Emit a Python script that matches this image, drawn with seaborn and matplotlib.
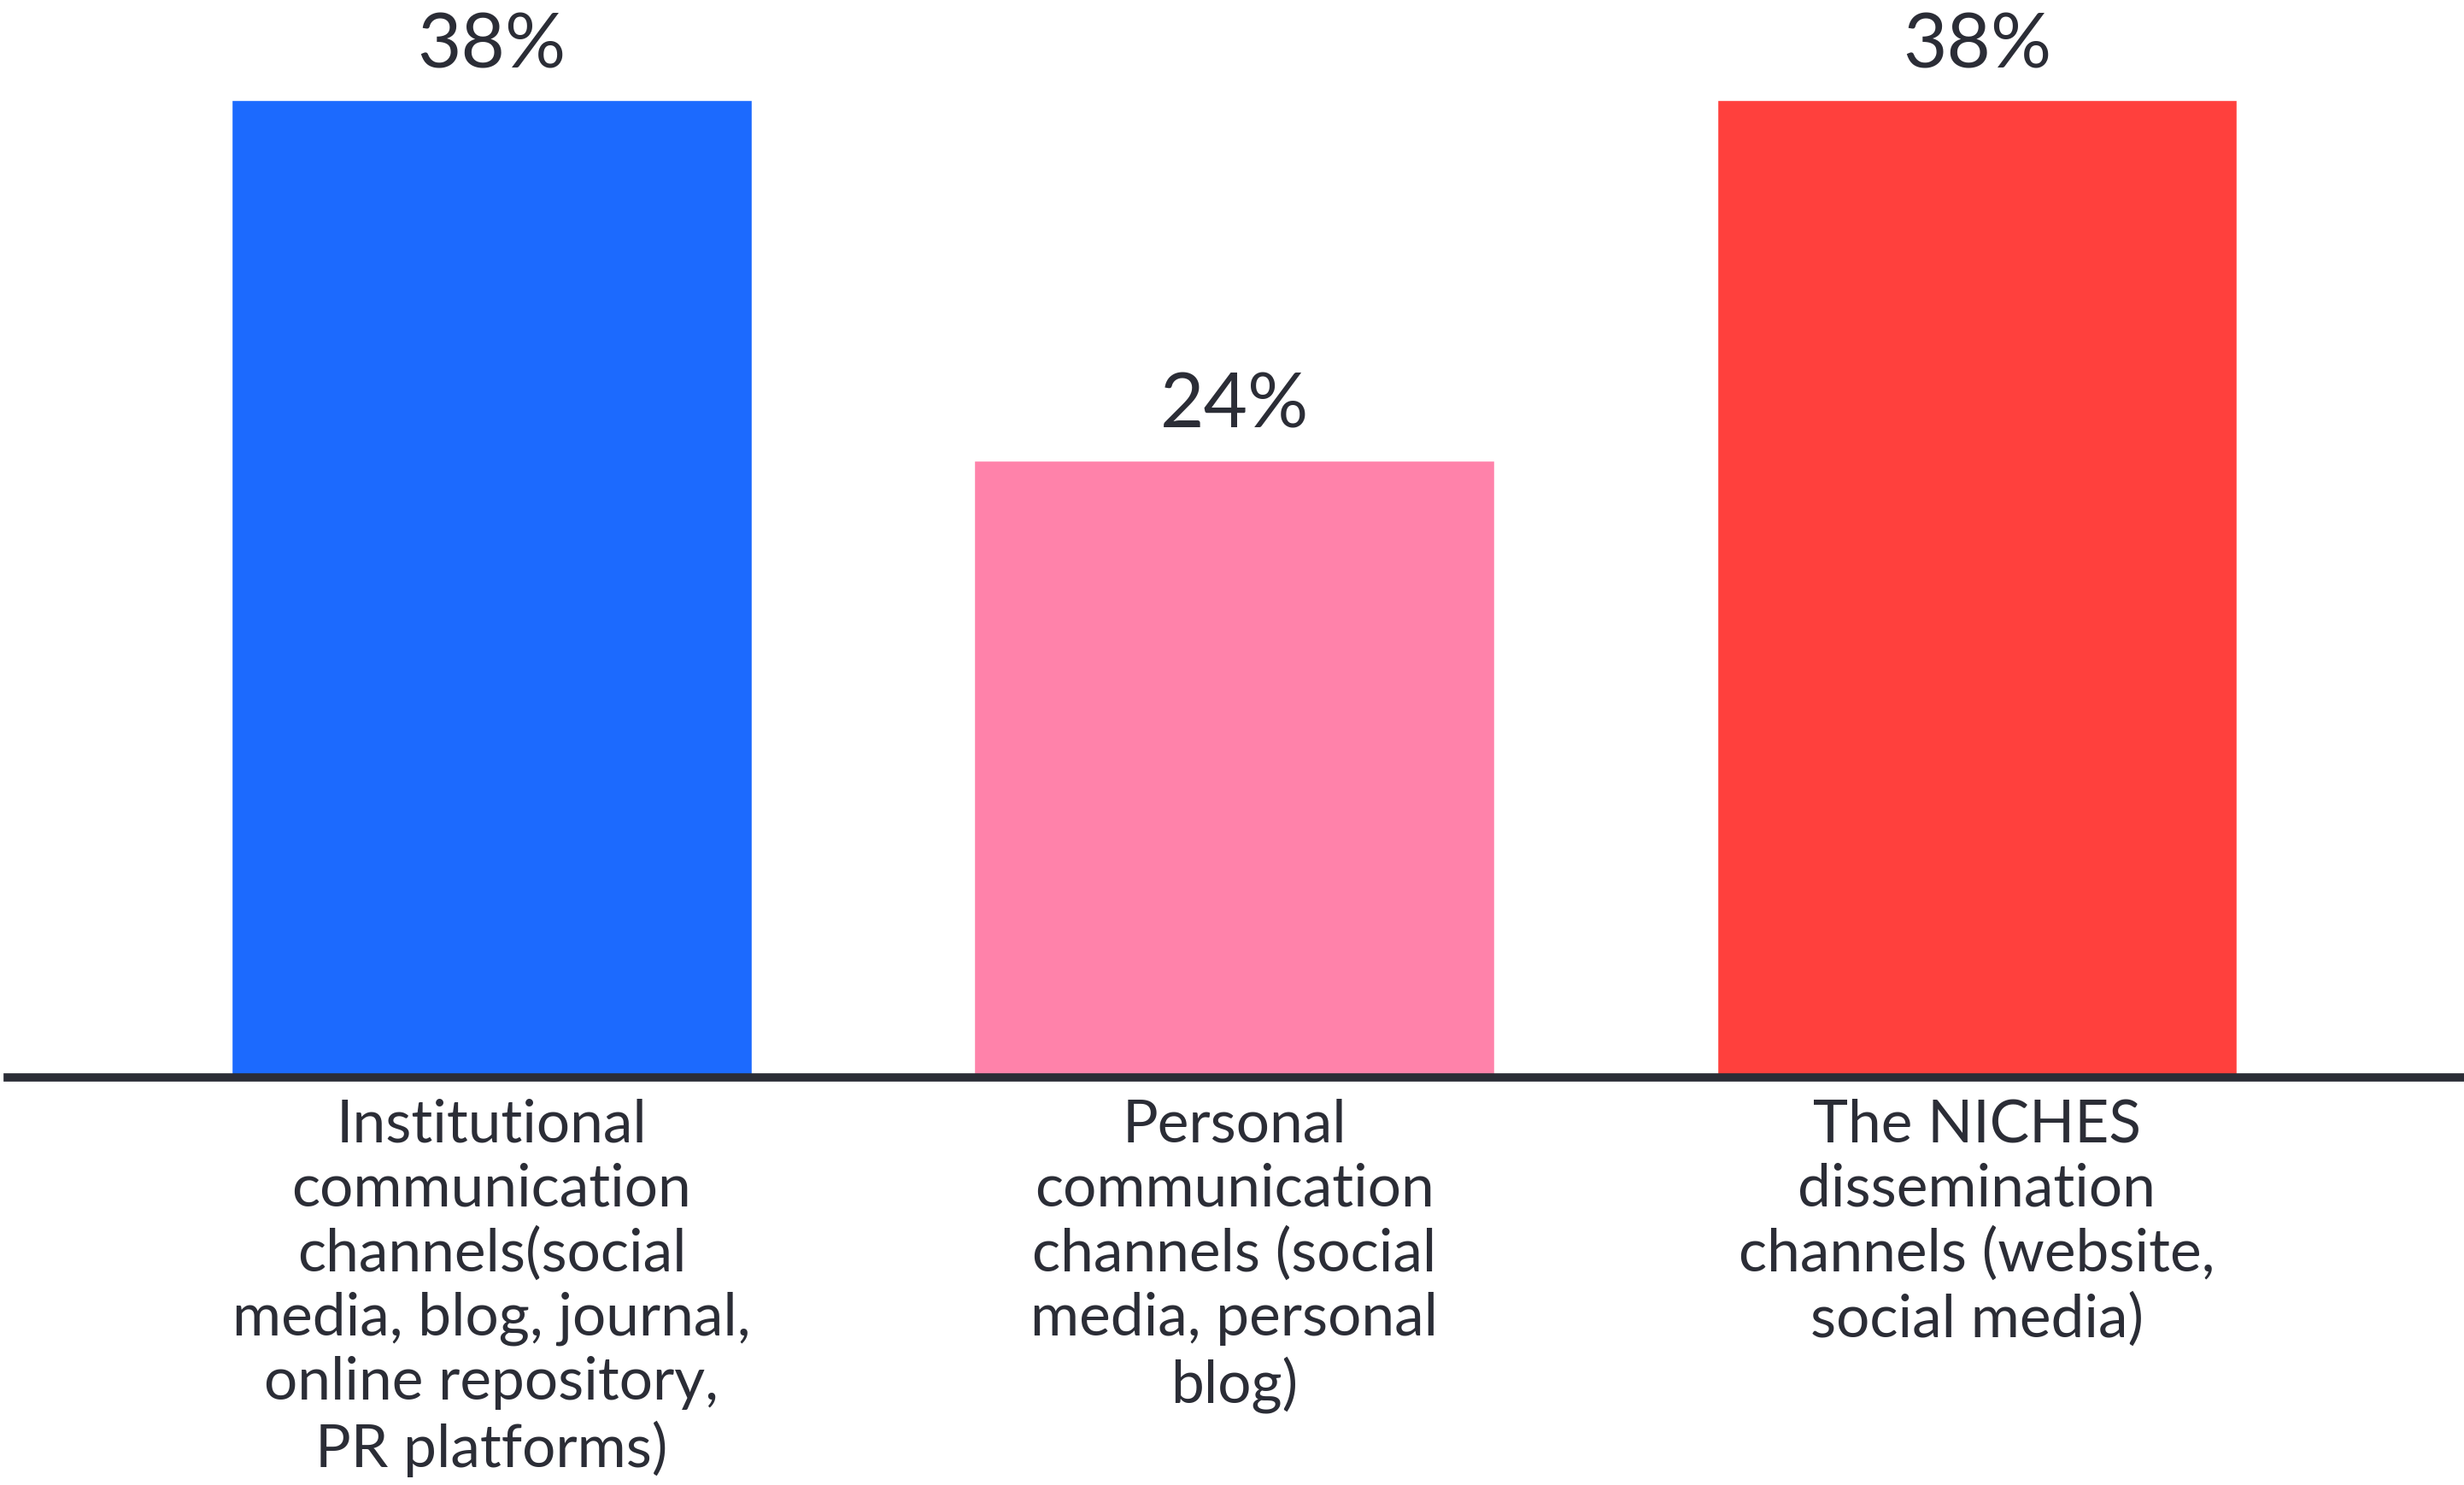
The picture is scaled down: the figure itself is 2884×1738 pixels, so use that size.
import matplotlib
matplotlib.use("Agg")
import matplotlib.pyplot as plt
import seaborn as sns
import pandas as pd

categories = [
    "Institutional\ncommunication\nchannels(social\nmedia, blog, journal,\nonline repository,\nPR platforms)",
    "Personal\ncommunication\nchannels (social\nmedia, personal\nblog)",
    "The NICHES\ndissemination\nchannels (website,\nsocial media)",
]
shares = [38, 24, 38]
bar_colors = ["#1C6AFE", "#FF82AA", "#FF403D"]
text_color = "#2B2D36"

sns.set_theme(style="white")
plt.rcParams["font.family"] = ["Lato", "DejaVu Sans"]

df = pd.DataFrame({"channel": categories, "share": shares})

fig = plt.figure(figsize=(28.84, 17.38), dpi=100)
ax = fig.add_axes([0.003, 0.2745, 0.997, 0.7255])

sns.barplot(data=df, x="channel", y="share", hue="channel",
            palette=bar_colors, width=0.70, saturation=1,
            legend=False, ax=ax)

ax.set_xlim(-0.652, 2.656)
ax.set_ylim(0, 41.9)

for container in ax.containers:
    ax.bar_label(container, fmt="%d%%", padding=16, fontsize=64,
                 color=text_color)

ax.set_xlabel("")
ax.set_ylabel("")
ax.set_yticks([])
ax.tick_params(axis="x", length=0, pad=18, labelsize=50, labelcolor=text_color)
for lbl in ax.get_xticklabels():
    lbl.set_linespacing(1.23)
    lbl.set_verticalalignment("top")

for side in ["top", "left", "right"]:
    ax.spines[side].set_visible(False)
ax.spines["bottom"].set_color(text_color)
ax.spines["bottom"].set_linewidth(7)

fig.savefig("out.png", dpi=100, facecolor="white")
